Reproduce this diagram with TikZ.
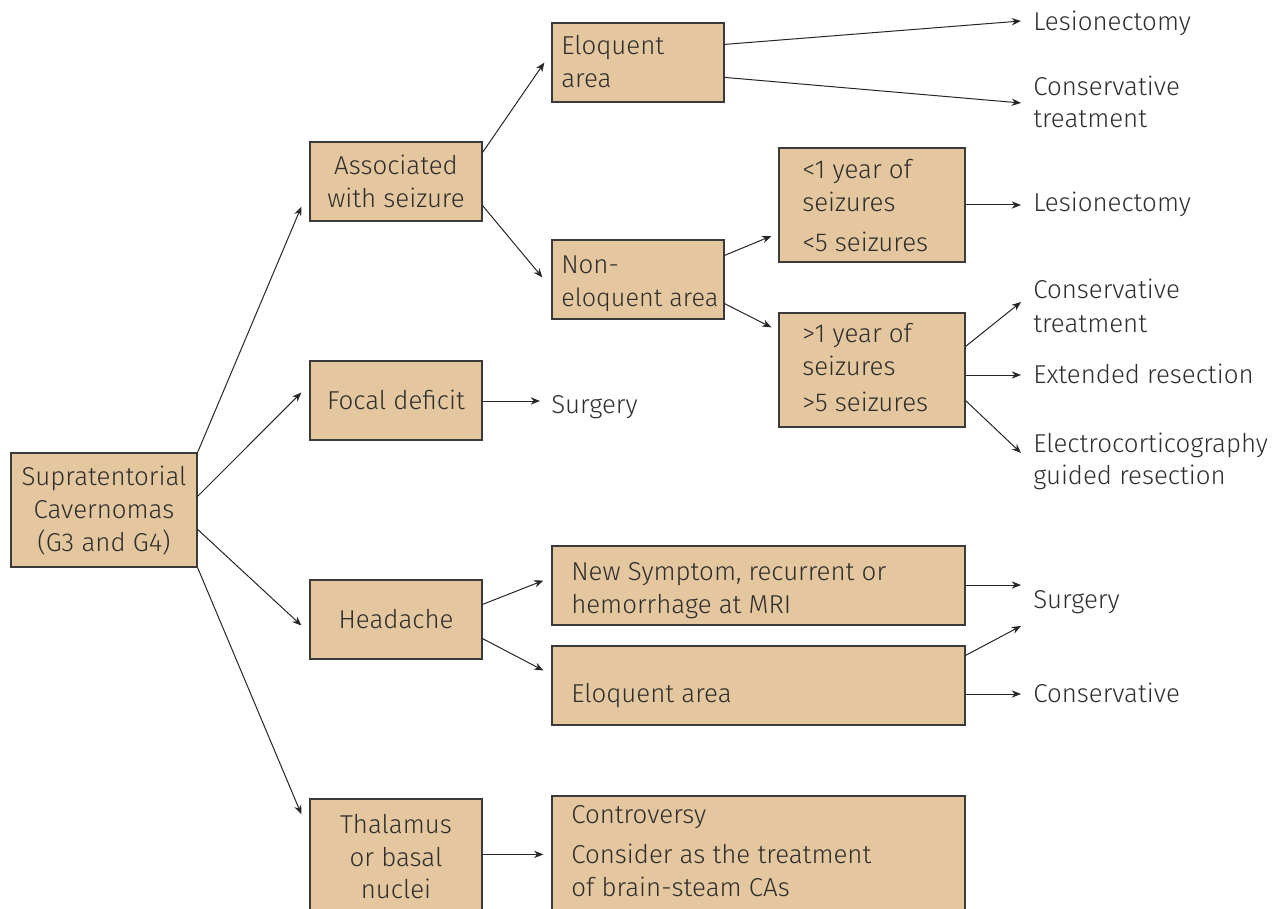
\documentclass[tikz,border=0pt]{standalone}
\usepackage{fontspec}
\setmainfont{Fira Sans Light}
\usetikzlibrary{arrows.meta,calc,fit}
\definecolor{boxfill}{HTML}{E4C79F}
\definecolor{boxline}{HTML}{3A3A3A}
\definecolor{txtcol}{HTML}{2E2E2E}
\definecolor{arrcol}{HTML}{262626}
\tikzset{
  box/.style={draw=boxline, fill=boxfill, line width=0.9pt, inner sep=0pt, rectangle},
  lt/.style={anchor=base west, inner sep=0pt, text=txtcol, font=\fontsize{19.4}{23}\selectfont},
  ct/.style={anchor=base, inner sep=0pt, text=txtcol, font=\fontsize{19.4}{23}\selectfont},
  arr/.style={draw=arrcol, line width=0.75pt, -{Stealth[length=7pt,width=5.5pt]}}
}
\begin{document}
\begin{tikzpicture}[x=0.75pt,y=-0.75pt]
\useasboundingbox (0,0) rectangle (1274,909);
\clip (0,0) rectangle (1274,909);
% boxes
\node[box, fit={(11,453)(197,567)}] (A) {};
\node[box, fit={(310,142)(482,221)}] (B1) {};
\node[box, fit={(310,361)(482,440)}] (B2) {};
\node[box, fit={(310,580)(482,659)}] (B3) {};
\node[box, fit={(310,799)(482,920)}] (B4) {};
\node[box, fit={(552,23)(724,102)}] (C1) {};
\node[box, fit={(552,240)(724,319)}] (C2) {};
\node[box, fit={(779,148)(965,262)}] (D1) {};
\node[box, fit={(779,313)(965,427)}] (D2) {};
\node[box, fit={(552,546)(965,625)}] (E1) {};
\node[box, fit={(552,646)(965,725)}] (E2) {};
\node[box, fit={(552,796)(965,920)}] (E3) {};
% box texts
\node[ct] (A1) at (104,485) {Supratentorial};
\node[ct] (A2) at (104,518) {Cavernomas};
\node[ct] (A3) at (104,551) {(G3 and G4)};
\node[ct] (B1a) at (396,175) {Associated};
\node[ct] (B1b) at (396,208) {with seizure};
\node[ct] (B2a) at (396,409) {Focal deficit};
\node[ct] (B3a) at (396,628) {Headache};
\node[ct] (B4a) at (396,833) {Thalamus};
\node[ct] (B4b) at (396,866) {or basal};
\node[ct] (B4c) at (396,898) {nuclei};
\node[lt] (C1a) at (561,55) {Eloquent};
\node[lt] (C1b) at (561,88) {area};
\node[lt] (C2a) at (561,273) {Non-};
\node[lt, font=\fontsize{18.9}{23}\selectfont] (C2b) at (561,306) {eloquent area};
\node[lt] (D1a) at (802,179) {<1 year of};
\node[lt] (D1b) at (802,212) {seizures};
\node[lt] (D1c) at (802,252) {<5 seizures};
\node[lt] (D2a) at (802,342) {>1 year of};
\node[lt] (D2b) at (802,375) {seizures};
\node[lt] (D2c) at (802,411) {>5 seizures};
\node[lt] (E1a) at (571,580) {New Symptom, recurrent or};
\node[lt] (E1b) at (571,613) {hemorrhage at MRI};
\node[lt] (E2a) at (571,702) {Eloquent area};
\node[lt] (E3a) at (571,823) {Controversy};
\node[lt] (E3b) at (571,863) {Consider as the treatment};
\node[lt] (E3c) at (571,896) {of brain-steam CAs};
% outcome texts
\node[lt] (L1) at (1033,31) {Lesionectomy};
\node[lt] (CT1) at (1033,96) {Conservative};
\node[lt] (CT1b) at (1033,128) {treatment};
\node[lt] (L2) at (1033,212) {Lesionectomy};
\node[lt] (CT2) at (1033,299) {Conservative};
\node[lt] (CT2b) at (1033,332) {treatment};
\node[lt] (ER) at (1033,383) {Extended resection};
\node[lt] (EG) at (1033,452) {Electrocorticography};
\node[lt] (EGb) at (1033,484) {guided resection};
\node[lt] (S1) at (551,413) {Surgery};
\node[lt] (S2) at (1033,608) {Surgery};
\node[lt] (CV) at (1033,702) {Conservative};
% connectors
\draw[arr] (A.north east) -- ($(B1.south west)+(-8,-15)$);
\draw[arr] ($(A.north east)+(0,44)$) -- ($(B2.west)+(-8,-8)$);
\draw[arr] ($(A.north east)+(0,77)$) -- ($(B3.west)+(-8,6)$);
\draw[arr] (A.south east) -- ($(B4.north west)+(-8,16)$);
\draw[arr] ($(B1.north east)+(0,11)$) -- ($(C1.west)+(-7,0)$);
\draw[arr] ($(B1.south east)+(0,-16)$) -- ($(C2.west)+(-9,-2)$);
\draw[arr] ($(C1.north east)+(0,22)$) -- ($(L1.base west)+(-12,-10)$);
\draw[arr] ($(C1.north east)+(0,55)$) -- ($(CT1.base west)+(-12,7)$);
\draw[arr] ($(C2.north east)+(0,16)$) -- ($(D1.west)+(-7,31)$);
\draw[arr] ($(C2.south east)+(0,-16)$) -- ($(D2.north west)+(-7,15)$);
\draw[arr] (D1.east) -- ($(L2.base west)+(-12,-7)$);
\draw[arr] ($(D2.north east)+(0,34)$) -- ($(CT2.base west)+(-12,3)$);
\draw[arr] ($(D2.east)+(0,5)$) -- ($(ER.base west)+(-12,-8)$);
\draw[arr] ($(D2.south east)+(0,-27)$) -- ($(EG.base west)+(-12,1)$);
\draw[arr] ($(B2.east)+(0,0.5)$) -- ($(S1.base west)+(-11,-12)$);
\draw[arr] ($(B3.north east)+(0,25)$) -- ($(E1.west)+(-8,-5)$);
\draw[arr] ($(B3.south east)+(0,-21)$) -- ($(E2.west)+(-8,-15)$);
\draw[arr] ($(E1.east)+(0,-0.5)$) -- ($(S2.base west)+(-12,-23)$);
\draw[arr] ($(E2.north east)+(0,10)$) -- ($(S2.base west)+(-12,18)$);
\draw[arr] ($(E2.east)+(0,8.5)$) -- ($(CV.base west)+(-12,-8)$);
\draw[arr] ($(B4.north east)+(0,56)$) -- ($(E3.north west)+(-8,59)$);
\end{tikzpicture}
\end{document}
